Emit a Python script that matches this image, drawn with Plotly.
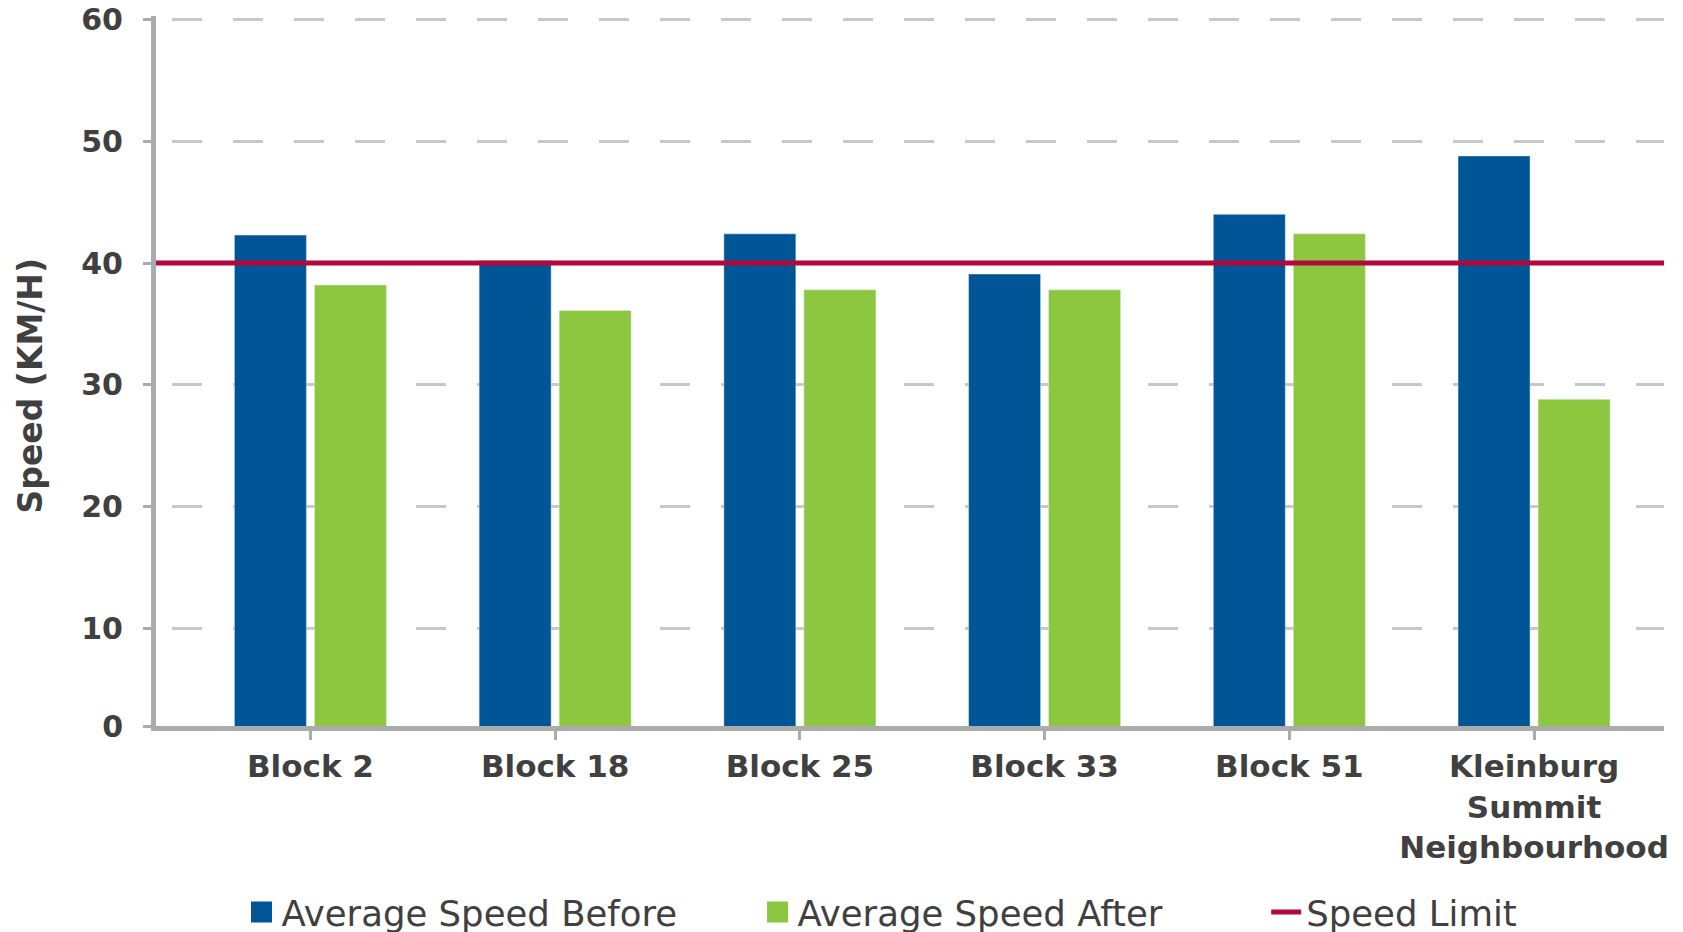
import plotly.graph_objects as go

# speeds (km/h)
categories = ['Block 2', 'Block 18', 'Block 25', 'Block 33', 'Block 51',
              'Kleinburg<br>Summit<br>Neighbourhood']
speed_before = [42.3, 40.2, 42.4, 39.1, 44.0, 48.8]
speed_after = [38.2, 36.1, 37.8, 37.8, 42.4, 28.8]
speed_limit = 40

# the source axis is squeezed at the bottom: "0" sits on the axis line
y_tick_vals = [1.96, 10, 20, 30, 40, 50, 60]
y_tick_text = ['0', '10', '20', '30', '40', '50', '60']

BLUE = '#005596'
GREEN = '#8DC63F'
RED = '#B0093A'
TEXT = '#404040'
AXIS = '#ABABAB'
GRID = '#C8C8C8'

fig = go.Figure()
fig.add_trace(go.Bar(x=categories, y=speed_before, name='Average Speed Before',
                     marker_color=BLUE, showlegend=False))
fig.add_trace(go.Bar(x=categories, y=speed_after, name='Average Speed After',
                     marker_color=GREEN, showlegend=False))

# legend proxies so the squares can be larger than the default bar swatch
for name, col in [('Average Speed Before', BLUE), ('Average Speed After', GREEN)]:
    fig.add_trace(go.Scatter(x=[None], y=[None], mode='markers', name=name,
                             marker=dict(symbol='square', size=16, color=col,
                                         line=dict(width=5, color=col))))

fig.add_shape(type='line', xref='paper', x0=0, x1=1, yref='y',
              y0=speed_limit, y1=speed_limit, line=dict(color=RED, width=5),
              showlegend=True, name='Speed Limit', legend='legend2')

fig.add_annotation(text='Speed (KM/H)', textangle=-90, showarrow=False,
                   xref='paper', yref='paper', x=-0.0832, y=0.479,
                   xanchor='center', yanchor='middle',
                   font=dict(size=33, weight='bold', color=TEXT))

legend_font = dict(size=35.5, color=TEXT)
fig.update_layout(
    width=1675, height=924,
    margin=dict(l=147.5, r=19, t=7.8, b=206, autoexpand=False),
    plot_bgcolor='white', paper_bgcolor='white',
    barmode='group', bargap=0.346, bargroupgap=0.1,
    font=dict(family='DejaVu Sans', color=TEXT),
    legend=dict(orientation='h', x=0.0567, xanchor='left', y=-0.2626, yanchor='middle',
                font=legend_font, entrywidth=471),
    legend2=dict(orientation='h', x=0.7362, xanchor='left', y=-0.2626, yanchor='middle',
                 font=legend_font),
    xaxis=dict(range=[-0.631, 5.531], showline=True, linecolor=AXIS, linewidth=5,
               ticks='outside', ticklen=9, tickwidth=3, tickcolor=AXIS,
               tickfont=dict(size=31, weight='bold', color=TEXT), showgrid=False),
    yaxis=dict(range=[1.96, 60.3], showline=True, linecolor=AXIS, linewidth=5,
               tickmode='array', tickvals=y_tick_vals, ticktext=y_tick_text,
               ticks='outside', ticklen=8, tickwidth=3, tickcolor=AXIS,
               ticklabelstandoff=14, ticklabeloverflow='allow',
               tickfont=dict(size=30, weight='bold', color=TEXT),
               showgrid=True, gridcolor=GRID, gridwidth=3,
               griddash='0px,16px,30px,15px', zeroline=False),
)

fig.write_html('out.html')
